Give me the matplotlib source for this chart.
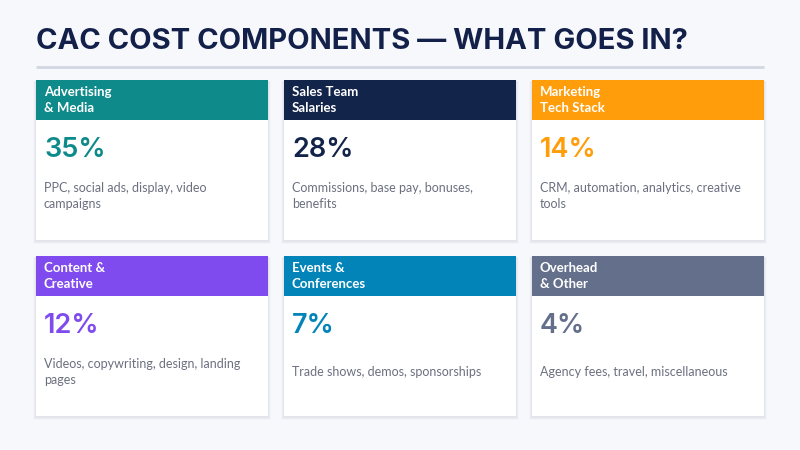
import matplotlib.pyplot as plt
from matplotlib.patches import Rectangle

# Data
categories = ["Advertising\n& Media", "Sales Team\nSalaries", "Marketing\nTech Stack",
              "Content &\nCreative", "Events &\nConferences", "Overhead\n& Other"]
shares = [35, 28, 14, 12, 7, 4]
descriptions = ["PPC, social ads, display, video\ncampaigns",
                "Commissions, base pay, bonuses,\nbenefits",
                "CRM, automation, analytics, creative\ntools",
                "Videos, copywriting, design, landing\npages",
                "Trade shows, demos, sponsorships",
                "Agency fees, travel, miscellaneous"]
colors = ["#0E8A8B", "#13244B", "#FF9D0A", "#7F4BEE", "#0284B8", "#64708B"]

title = "CAC COST COMPONENTS \u2014 WHAT GOES IN?"

fig = plt.figure(figsize=(8, 4.5), dpi=100)
fig.patch.set_facecolor("#F7F8FC")
ax = fig.add_axes([0, 0, 1, 1])
ax.set_xlim(0, 800)
ax.set_ylim(450, 0)
ax.axis("off")

ax.text(36, 49, title, fontsize=21, fontweight="bold", color="#13214A",
        family="Inter", va="baseline", ha="left")
ax.plot([36, 764], [66.5, 66.5], color="#D3D7E2", lw=2, solid_capstyle="butt")

card_w, head_h, body_h = 232, 40, 120
x0s = [36, 284, 532]
y0s = [80, 256]

for i, (cat, val, desc, col) in enumerate(zip(categories, shares, descriptions, colors)):
    x = x0s[i % 3]
    y = y0s[i // 3]
    # soft shadow
    for k, a in enumerate([0.04, 0.03, 0.015]):
        ax.add_patch(Rectangle((x - 1 - k, y + 1), card_w + 2 + 2 * k, head_h + body_h + 1 + k,
                               facecolor="#1E2A4A", alpha=a, edgecolor="none", zorder=1))
    ax.add_patch(Rectangle((x, y), card_w, head_h + body_h, facecolor="white",
                           edgecolor="none", zorder=2))
    ax.add_patch(Rectangle((x, y), card_w, head_h, facecolor=col, edgecolor="none", zorder=3))
    ax.text(x + 8, y + head_h / 2 + 0.5, cat, fontsize=9.5, fontweight="bold", color="white",
            family="Lato", va="center", ha="left", linespacing=1.4, zorder=4)
    ax.text(x + 8, y + 70, f"{val}%", fontsize=19.5, fontweight="semibold", color=col,
            family="Inter", va="center", ha="left", zorder=4)
    ax.text(x + 8, y + 116, desc, fontsize=9, color="#6B7080",
            family="Lato", va="center", ha="left", linespacing=1.35, zorder=4)

fig.savefig("out.png", dpi=100, facecolor=fig.get_facecolor())
